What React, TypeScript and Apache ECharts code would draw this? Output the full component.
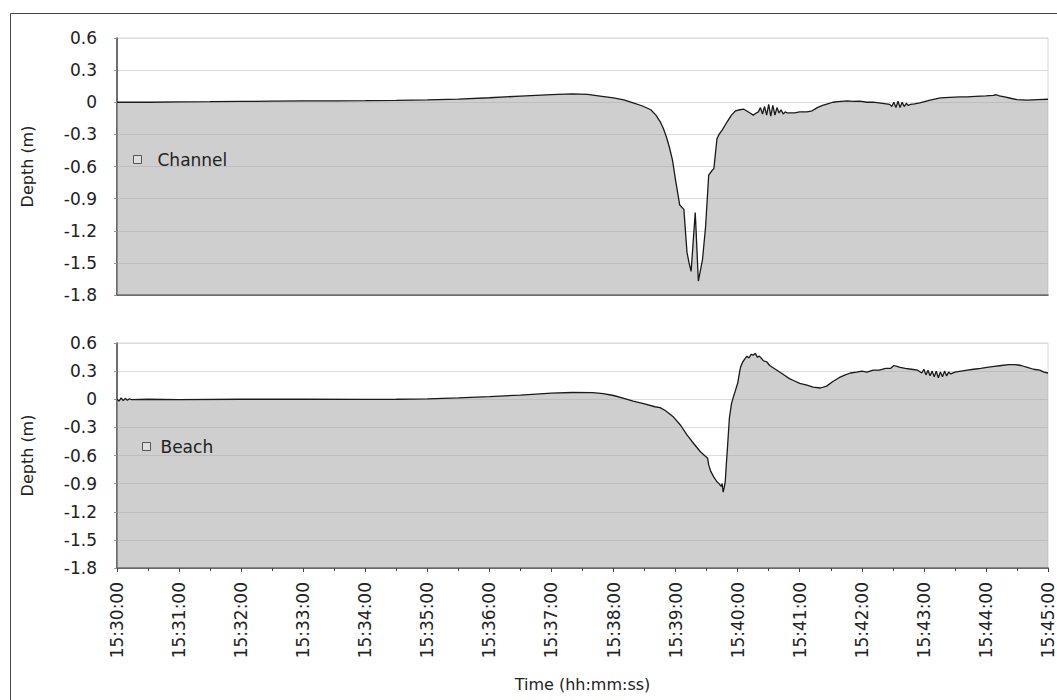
import React, { useEffect, useRef } from "react";
import * as echarts from "echarts";

// time in seconds after 15:30:00
const channelTime = [0, 30, 60, 90, 120, 150, 180, 210, 240, 270, 300, 330, 360, 390, 420, 440, 455, 467, 480, 490, 499, 508, 516, 521, 525, 528, 531, 534, 537, 540, 544, 548, 551, 553, 555, 557, 559, 562, 566, 569, 572, 575, 577, 580, 582, 585, 590, 594, 598, 602, 606, 612, 615, 618, 620, 622, 624, 626, 628, 630, 632, 634, 636, 638, 640, 642, 644, 646, 648, 655, 660, 667, 672, 677, 682, 687, 692, 697, 706, 712, 718, 725, 731, 740, 747, 749, 751, 753, 755, 757, 759, 761, 763, 765, 767, 771, 776, 786, 796, 805, 815, 822, 830, 840, 847, 850, 853, 858, 865, 870, 880, 890, 900];
const channelDepth = [0.0, 0.0, 0.003, 0.005, 0.008, 0.01, 0.012, 0.013, 0.015, 0.018, 0.022, 0.03, 0.042, 0.058, 0.072, 0.078, 0.074, 0.058, 0.04, 0.022, -0.005, -0.035, -0.07, -0.12, -0.18, -0.24, -0.32, -0.42, -0.54, -0.73, -0.96, -1.0, -1.4, -1.5, -1.58, -1.3, -1.03, -1.67, -1.47, -1.16, -0.68, -0.64, -0.62, -0.34, -0.3, -0.26, -0.18, -0.12, -0.08, -0.07, -0.065, -0.1, -0.12, -0.1, -0.09, -0.05, -0.11, -0.04, -0.12, -0.02, -0.13, -0.03, -0.12, -0.05, -0.1, -0.07, -0.11, -0.09, -0.1, -0.1, -0.09, -0.09, -0.08, -0.05, -0.03, -0.015, 0.0, 0.005, 0.012, 0.008, 0.01, 0.0, 0.002, -0.01, -0.02, -0.04, 0.0, -0.05, 0.01, -0.05, 0.0, -0.04, -0.01, -0.03, -0.02, -0.015, -0.005, 0.02, 0.04, 0.045, 0.05, 0.05, 0.055, 0.06, 0.065, 0.07, 0.06, 0.05, 0.035, 0.025, 0.02, 0.025, 0.028];

const beachTime = [0, 2, 4, 6, 8, 10, 12, 14, 30, 60, 120, 180, 240, 270, 300, 330, 360, 390, 420, 440, 460, 470, 480, 490, 499, 510, 520, 525, 530, 538, 545, 551, 558, 564, 568, 571, 572, 574, 577, 580, 582, 584, 585, 586, 587, 588, 589, 590, 592, 594, 596, 598, 600, 602, 603, 605, 607, 609, 611, 613, 615, 617, 619, 621, 625, 628, 631, 635, 638, 642, 646, 650, 654, 660, 667, 673, 680, 686, 692, 698, 704, 709, 715, 720, 725, 731, 737, 743, 748, 751, 754, 757, 762, 768, 774, 778, 780, 782, 784, 786, 788, 790, 792, 794, 796, 798, 800, 802, 804, 806, 810, 816, 822, 828, 835, 841, 848, 855, 862, 868, 874, 880, 886, 892, 896, 900];
const beachDepth = [0.0, -0.02, 0.015, -0.015, 0.01, -0.01, 0.005, -0.005, 0.0, -0.003, 0.0, 0.0, -0.002, 0.0, 0.005, 0.015, 0.028, 0.045, 0.065, 0.072, 0.07, 0.06, 0.04, 0.01, -0.02, -0.05, -0.08, -0.09, -0.12, -0.19, -0.28, -0.38, -0.48, -0.56, -0.6, -0.63, -0.7, -0.77, -0.83, -0.88, -0.9, -0.93, -0.9, -0.99, -0.94, -0.88, -0.7, -0.54, -0.2, -0.05, 0.03, 0.1, 0.17, 0.3, 0.35, 0.4, 0.43, 0.46, 0.44, 0.48, 0.47, 0.49, 0.45, 0.46, 0.41, 0.4, 0.36, 0.33, 0.31, 0.28, 0.25, 0.22, 0.2, 0.17, 0.15, 0.13, 0.12, 0.14, 0.19, 0.23, 0.26, 0.28, 0.29, 0.3, 0.29, 0.31, 0.31, 0.33, 0.33, 0.36, 0.35, 0.34, 0.33, 0.32, 0.31, 0.28, 0.32, 0.26, 0.31, 0.25, 0.3, 0.24, 0.3, 0.23, 0.29, 0.24, 0.3, 0.25, 0.29, 0.27, 0.29, 0.3, 0.31, 0.32, 0.33, 0.34, 0.35, 0.36, 0.37, 0.37, 0.36, 0.34, 0.32, 0.31, 0.29, 0.28];

const yMin = -1.8;
const yMax = 0.6;
const yStep = 0.3;
const xMin = 0;
const xMax = 900;
const xStep = 60;

const FONT = "DejaVu Sans";
const TEXT = "#222";

export default function App() {
  const ref = useRef<HTMLDivElement>(null);
  useEffect(() => {
    document.body.style.margin = "0";
    const chart = echarts.init(ref.current!, null, { renderer: "svg" });
    const zip = (t: number[], v: number[]) => t.map((x, i) => [x, v[i]]);
    const yAxis = (gi: number) => ({
      type: "value",
      gridIndex: gi,
      min: yMin,
      max: yMax,
      interval: yStep,
      name: "Depth (m)",
      nameLocation: "middle",
      nameRotate: 90,
      nameGap: 82,
      nameTextStyle: { fontFamily: FONT, fontSize: 16, color: TEXT },
      axisLine: { show: true, onZero: false, lineStyle: { color: "#444", width: 1.5 } },
      axisTick: { show: true, length: 3, lineStyle: { color: "#999" } },
      splitLine: { show: true, lineStyle: { color: "#dcdcdc", width: 1 } },
      axisLabel: {
        fontFamily: FONT,
        fontSize: 17,
        color: TEXT,
        margin: 20,
        formatter: (v: number) => String(Math.round(v * 10) / 10),
      },
    });
    const legendFor = (name: string, top: number, left: number, pad: number) => ({
      show: true,
      selectedMode: false,
      left,
      top,
      icon: "rect",
      itemWidth: 8,
      itemHeight: 8,
      data: [
        {
          name,
          itemStyle: { color: "#dedede", borderColor: "#555", borderWidth: 1 },
        },
      ],
      textStyle: { fontFamily: FONT, fontSize: 17, color: TEXT, padding: [0, 0, 0, pad] },
    });
    const seriesFor = (name: string, idx: number, data: number[][]) => ({
      name,
      type: "line",
      xAxisIndex: idx,
      yAxisIndex: idx,
      data,
      showSymbol: false,
      symbol: "none",
      smooth: false,
      itemStyle: { color: "#dedede", borderColor: "#555" },
      lineStyle: { color: "#1a1a1a", width: 1.3 },
      areaStyle: { color: "#a0a0a0", opacity: 0.5, origin: "start" },
    });
    chart.setOption({
      animation: false,
      textStyle: { fontFamily: FONT },
      grid: [
        { left: 117, top: 38, width: 931, height: 257, show: true, borderColor: "#d8d8d8", borderWidth: 1, backgroundColor: "transparent" },
        { left: 117, top: 343, width: 931, height: 225, show: true, borderColor: "#d8d8d8", borderWidth: 1, backgroundColor: "transparent" },
      ],
      legend: [legendFor("Channel", 146, 128, 11), legendFor("Beach", 433, 137, 5)],
      xAxis: [
        {
          type: "value",
          gridIndex: 0,
          min: xMin,
          max: xMax,
          interval: xStep,
          axisLine: { show: true, onZero: false, lineStyle: { color: "#444", width: 1.5 } },
          axisTick: { show: false },
          axisLabel: { show: false },
          splitLine: { show: false },
        },
        {
          type: "value",
          gridIndex: 1,
          min: xMin,
          max: xMax,
          interval: xStep,
          name: "Time (hh:mm:ss)",
          nameLocation: "middle",
          nameGap: 108,
          nameTextStyle: { fontFamily: FONT, fontSize: 16, color: TEXT },
          axisLine: { show: true, onZero: false, lineStyle: { color: "#444", width: 1.5 } },
          axisTick: { show: true, length: 4, lineStyle: { color: "#444" } },
          minorTick: { show: true, splitNumber: 2, length: 3, lineStyle: { color: "#444" } },
          splitLine: { show: false },
          axisLabel: {
            rotate: 90,
            margin: 14,
            fontFamily: FONT,
            fontSize: 17,
            color: TEXT,
            formatter: (v: number) => "15:" + String(30 + Math.round(v / 60)).padStart(2, "0") + ":00",
          },
        },
      ],
      yAxis: [yAxis(0), yAxis(1)],
      series: [seriesFor("Channel", 0, zip(channelTime, channelDepth)), seriesFor("Beach", 1, zip(beachTime, beachDepth))],
      graphic: [
        {
          type: "rect",
          shape: { x: 10.5, y: 13.5, width: 1200, height: 1000 },
          style: { fill: "none", stroke: "#444", lineWidth: 1 },
          silent: true,
        },
      ],
    });
    return () => chart.dispose();
  }, []);
  return <div ref={ref} style={{ width: 1057, height: 700 }} />;
}
